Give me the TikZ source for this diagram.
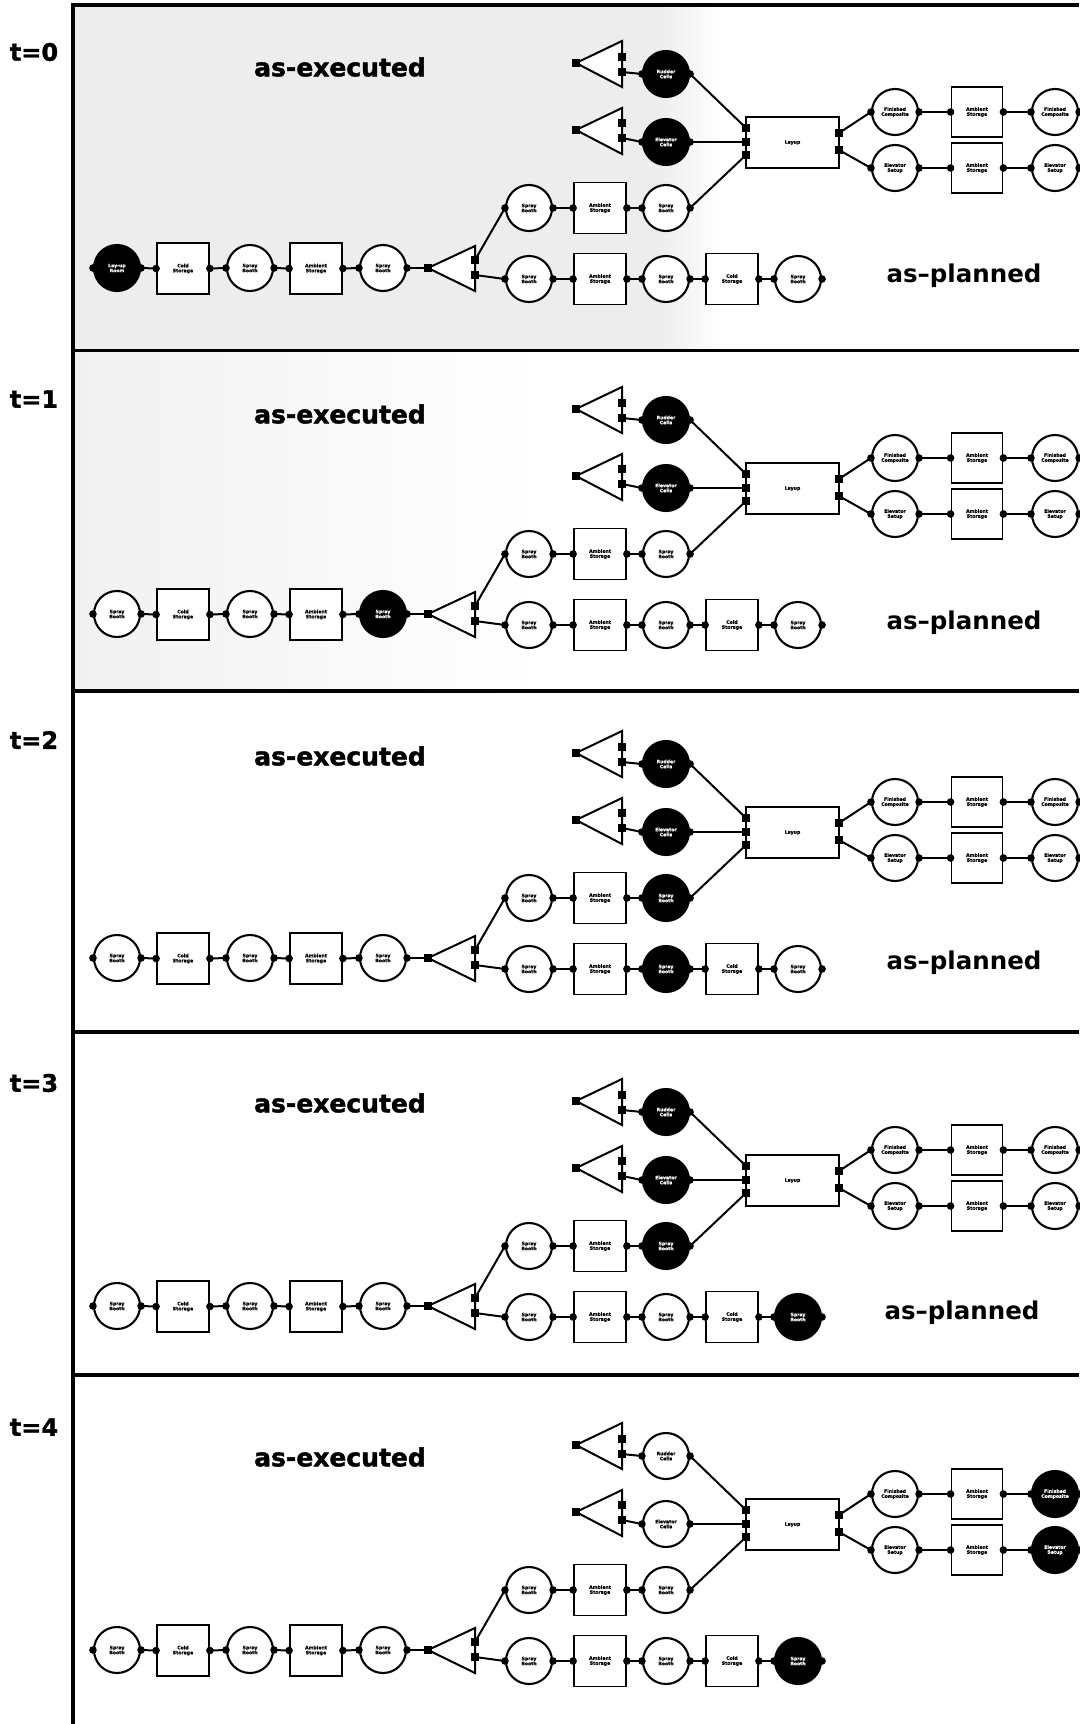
\documentclass[tikz,border=0pt]{standalone}
\usepackage{fontspec}
\setmainfont{DejaVu Sans}
\newfontfamily\heavyfont{DejaVu Sans Bold}[FakeBold=1.6]
\newfontfamily\tinyheavy{DejaVu Sans Bold}[FakeBold=1.0]
\newcommand\tinyf{\fontsize{4.6}{5.0}\selectfont\tinyheavy}
\tikzset{
  conn/.style={line width=2pt},
  crc/.style={circle, draw, line width=2.1pt, fill=white, minimum size=46pt, inner sep=0pt, align=center, font=\tinyf, text=black},
  boxn/.style={rectangle, draw, line width=1.8pt, fill=white, minimum width=52pt, minimum height=51pt, inner sep=0pt, align=center, font=\tinyf},
  blk/.style={fill=black, text=white},
  tri/.style={line width=2pt, fill=white, line join=miter},
  portdot/.style={fill=black},
  tlbl/.style={font=\fontsize{24}{28}\selectfont\heavyfont, inner sep=0pt},
  bigtxt/.style={font=\fontsize{25}{30}\selectfont\heavyfont, inner sep=0pt},
  plantxt/.style={font=\fontsize{24.5}{30}\selectfont\bfseries, inner sep=0pt},
  frame/.style={line width=3.2pt}
}
% #1 prefix, #2 vertical offset, #3 label of first node, #4 extra styles
\newcommand\drawpanel[4]{%
\begin{scope}[shift={(0,#2)},#4]
  % main chain
  \node[crc,st-m1/.try] (#1m1) at (117,268) {#3};
  \node[boxn] (#1m2) at (183,268.5) {Cold\\Storage};
  \node[crc,st-m3/.try] (#1m3) at (250,268) {Spray\\Booth};
  \node[boxn] (#1m4) at (316,268.5) {Ambient\\Storage};
  \node[crc,st-m5/.try] (#1m5) at (383,268) {Spray\\Booth};
  % splitter
  \coordinate (#1Tin) at (428,268);
  \coordinate (#1Tt) at (475,246);
  \coordinate (#1Tb) at (475,291);
  \coordinate (#1To1) at (475,260);
  \coordinate (#1To2) at (475,275);
  \draw[tri] (#1Tin) -- (#1Tt) -- (#1Tb) -- cycle;
  % upper branch
  \node[crc] (#1u1) at (529,208) {Spray\\Booth};
  \node[boxn] (#1u2) at (600,208) {Ambient\\Storage};
  \node[crc,st-u3/.try] (#1u3) at (666,208) {Spray\\Booth};
  % lower branch
  \node[crc] (#1l1) at (529,279) {Spray\\Booth};
  \node[boxn] (#1l2) at (600,279) {Ambient\\Storage};
  \node[crc,st-l3/.try] (#1l3) at (666,279) {Spray\\Booth};
  \node[boxn] (#1l4) at (732,279) {Cold\\Storage};
  \node[crc,st-l5/.try] (#1l5) at (798,279) {Spray\\Booth};
  % top triangles
  \coordinate (#1Ain) at (576,63);
  \coordinate (#1At) at (622,41);
  \coordinate (#1Ab) at (622,87);
  \coordinate (#1Ao1) at (622,57);
  \coordinate (#1Ao2) at (622,72);
  \draw[tri] (#1Ain) -- (#1At) -- (#1Ab) -- cycle;
  \coordinate (#1Bin) at (576,130);
  \coordinate (#1Bt) at (622,108);
  \coordinate (#1Bb) at (622,154);
  \coordinate (#1Bo1) at (622,123);
  \coordinate (#1Bo2) at (622,138);
  \draw[tri] (#1Bin) -- (#1Bt) -- (#1Bb) -- cycle;
  \node[crc,st-a/.try] (#1a) at (666,74) {Rudder\\Cells};
  \node[crc,st-b/.try] (#1b) at (666,142) {Elevator\\Cells};
  % layup
  \node[boxn, minimum width=93pt] (#1L) at (792.5,142.5) {Layup};
  \coordinate (#1Li1) at (746,128);
  \coordinate (#1Li2) at (746,142);
  \coordinate (#1Li3) at (746,155);
  \coordinate (#1Lo1) at (839,133);
  \coordinate (#1Lo2) at (839,150);
  % right chains
  \node[crc] (#1r1) at (895,112) {Finished\\Composite};
  \node[boxn, minimum width=51pt, minimum height=50pt] (#1r2) at (977,112) {Ambient\\Storage};
  \node[crc,st-r3/.try] (#1r3) at (1055,112) {Finished\\Composite};
  \node[crc] (#1s1) at (895,168) {Elevator\\Setup};
  \node[boxn, minimum width=51pt, minimum height=50pt] (#1s2) at (977,168) {Ambient\\Storage};
  \node[crc,st-s3/.try] (#1s3) at (1055,168) {Elevator\\Setup};
  % connectors
  \draw[conn] (#1m1.east) -- (#1m2.west);
  \draw[conn] (#1m2.east) -- (#1m3.west);
  \draw[conn] (#1m3.east) -- (#1m4.west);
  \draw[conn] (#1m4.east) -- (#1m5.west);
  \draw[conn] (#1m5.east) -- (#1Tin);
  \draw[conn] (#1To1) -- (#1u1.west);
  \draw[conn] (#1To2) -- (#1l1.west);
  \draw[conn] (#1u1.east) -- (#1u2.west);
  \draw[conn] (#1u2.east) -- (#1u3.west);
  \draw[conn] (#1u3.east) -- (#1Li3);
  \draw[conn] (#1l1.east) -- (#1l2.west);
  \draw[conn] (#1l2.east) -- (#1l3.west);
  \draw[conn] (#1l3.east) -- (#1l4.west);
  \draw[conn] (#1l4.east) -- (#1l5.west);
  \draw[conn] (#1Ao2) -- (#1a.west);
  \draw[conn] (#1a.east) -- (#1Li1);
  \draw[conn] (#1Bo2) -- (#1b.west);
  \draw[conn] (#1b.east) -- (#1Li2);
  \draw[conn] (#1Lo1) -- (#1r1.west);
  \draw[conn] (#1Lo2) -- (#1s1.west);
  \draw[conn] (#1r1.east) -- (#1r2.west);
  \draw[conn] (#1r2.east) -- (#1r3.west);
  \draw[conn] (#1s1.east) -- (#1s2.west);
  \draw[conn] (#1s2.east) -- (#1s3.west);
  % ports
  \foreach \n in {m1,m2,m3,m4,m5,u1,u2,u3,l1,l2,l3,l4,l5,a,b,r1,r2,r3,s1,s2,s3}{
    \fill[portdot] (#1\n.west) circle[radius=3.8] (#1\n.east) circle[radius=3.8];}
  \foreach \c in {Tin,To1,To2,Ain,Ao1,Ao2,Bin,Bo1,Bo2,Li1,Li2,Li3,Lo1,Lo2}{
    \fill[portdot] (#1\c) ++(-3.8,-3.8) rectangle ++(7.6,7.6);}
\end{scope}}
\begin{document}
\begin{tikzpicture}[x=1pt,y=-1pt]
\useasboundingbox (0,0) rectangle (1079,1724);
\fill[white] (0,0) rectangle (1079,1724);
% stippled background of the first panels
\fill[gray!14] (74,6) rectangle (660,350);
\shade[left color=gray!14, right color=white] (660,6) rectangle (720,350);
\shade[left color=gray!11, right color=white] (74,352) rectangle (540,690);
% frame
\draw[frame] (73,3.4) -- (73,1724);
\draw[frame] (73,5) -- (1079,5);
\draw[frame] (73,350.5) -- (1079,350.5);
\draw[frame] (73,691) -- (1079,691);
\draw[frame] (73,1032) -- (1079,1032);
\draw[frame] (73,1375) -- (1079,1375);
% panels
\drawpanel{A}{0}{Lay-up\\Room}{st-m1/.style=blk, st-a/.style=blk, st-b/.style=blk}
\drawpanel{B}{346}{Spray\\Booth}{st-m5/.style=blk, st-a/.style=blk, st-b/.style=blk}
\drawpanel{C}{690}{Spray\\Booth}{st-u3/.style=blk, st-l3/.style=blk, st-a/.style=blk, st-b/.style=blk}
\drawpanel{D}{1038}{Spray\\Booth}{st-u3/.style=blk, st-l5/.style=blk, st-a/.style=blk, st-b/.style=blk}
\drawpanel{E}{1382}{Spray\\Booth}{st-l5/.style=blk, st-r3/.style=blk, st-s3/.style=blk}
% time labels
\node[tlbl] (t0) at (34,52) {t=0};
\node[tlbl] (t1) at (34,399) {t=1};
\node[tlbl] (t2) at (34,740) {t=2};
\node[tlbl] (t3) at (34,1083) {t=3};
\node[tlbl] (t4) at (34,1427) {t=4};
% as-executed / as-planned
\node[bigtxt] (ex0) at (340,67) {as-executed};
\node[bigtxt] (ex1) at (340,414) {as-executed};
\node[bigtxt] (ex2) at (340,756) {as-executed};
\node[bigtxt] (ex3) at (340,1103) {as-executed};
\node[bigtxt] (ex4) at (340,1457) {as-executed};
\node[plantxt] (pl0) at (964,276) {as–planned};
\node[plantxt] (pl1) at (964,623) {as–planned};
\node[plantxt] (pl2) at (964,963) {as–planned};
\node[plantxt] (pl3) at (962,1313) {as–planned};
\end{tikzpicture}
\end{document}
